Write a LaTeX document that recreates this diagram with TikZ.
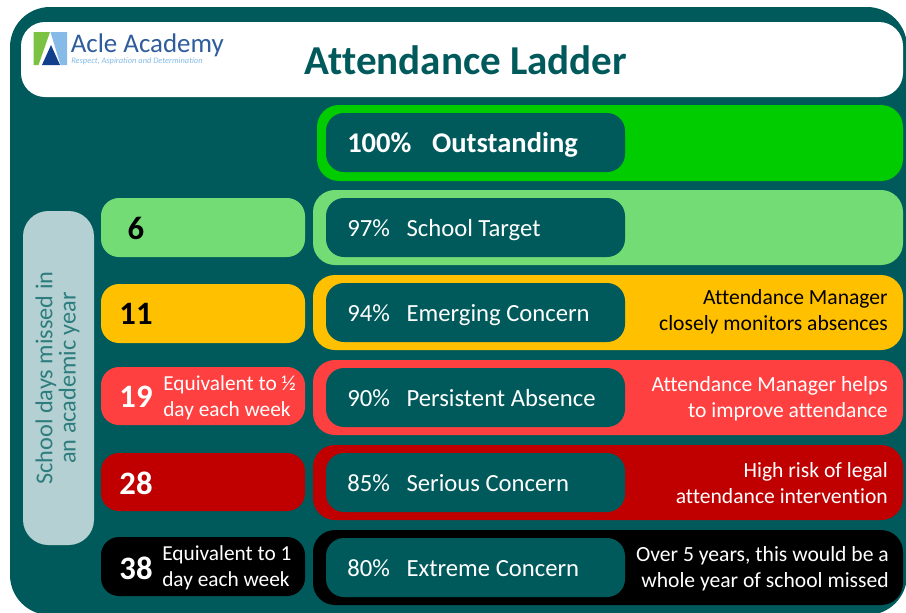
\documentclass[tikz,border=0pt]{standalone}
\usepackage{fontspec}
\setmainfont[Ligatures=NoCommon]{Carlito}
\definecolor{teal1}{HTML}{005A5B}
\definecolor{sidetx}{HTML}{2E7D7E}
\definecolor{gr1}{HTML}{00CC00}
\definecolor{gr2}{HTML}{74DC74}
\definecolor{amb}{HTML}{FFC000}
\definecolor{red1}{HTML}{FF4040}
\definecolor{red2}{HTML}{C00000}
\definecolor{side}{HTML}{B5D0D2}
\definecolor{logob}{HTML}{2F5C9C}
\definecolor{logol}{HTML}{85BBE6}
\definecolor{logod}{HTML}{123F8C}
\definecolor{logog}{HTML}{7CC242}
\tikzset{
 x=0.75pt,y=-0.75pt,
 bar/.style={rounded corners=16.5pt,draw=none},
 lft/.style={rounded corners=13.5pt,draw=none},
 inr/.style={rounded corners=13.5pt,draw=none,fill=teal1},
 lab/.style={font=\fontsize{18.5}{21}\selectfont,text=white,anchor=west,inner sep=0pt,text height=0.66em,text depth=0pt},
 num/.style={font=\fontsize{24.5}{27}\selectfont\bfseries,anchor=center,inner sep=0pt},
 eq/.style={font=\fontsize{16}{19.5}\selectfont,text=white,align=left,anchor=west,inner sep=0pt},
 note/.style={font=\fontsize{16.2}{19.5}\selectfont,align=right,anchor=east,inner sep=0pt},
}
\newcommand{\ladderrow}[5]{%
 \fill[bar,fill=#2] (313,#1) rectangle (903,#1+75);
 \fill[inr] (326,#1+8) rectangle (625,#1+67);
 \node[lab] (#5) at (347,#1+42) {#3\hspace{12.5pt}#4};
}
\begin{document}
\begin{tikzpicture}
\useasboundingbox (0,0) rectangle (906,612);
\fill[white] (0,0) rectangle (906,612);
\begin{scope}
\clip (0,0) rectangle (906,612);
\fill[teal1,rounded corners=30pt] (10,7) rectangle (907,615);
\end{scope}
% header
\fill[white,rounded corners=18pt] (21,22) rectangle (903,97);
\fill[logog] (33.5,32) -- (50,32) -- (38.5,65) -- (33.5,65) -- cycle;
\fill[logol] (50.5,32) -- (67,32) -- (67,65) -- (60.5,65) -- cycle;
\fill[logod] (51,45) -- (60,65) -- (42,65) -- cycle;
\node[inner sep=0pt,anchor=west,text=logob,font=\fontsize{20.2}{22}\selectfont] (brand) at (70.5,45.5) {Acle Academy};
\node[inner sep=0pt,anchor=west,text=logol,font=\fontsize{6.3}{8}\selectfont\itshape] (motto) at (71,61.5) {Respect, Aspiration and Determination};
\node[inner sep=0pt,text=teal1,font=\fontsize{30.8}{33}\selectfont\bfseries] (title) at (466,60) {Attendance Ladder};
% side
\fill[side,rounded corners=19pt] (23,211) rectangle (94,545);
\node[rotate=90,align=center,text=sidetx,inner sep=0pt,font=\fontsize{18.2}{17.3}\selectfont] (sidetxt) at (57.5,378) {School days missed in\\an academic year};
% top row
\fill[bar,fill=gr1] (317,105) rectangle (903,181);
\fill[inr] (326,113) rectangle (625,172);
\node[lab,font=\fontsize{21.4}{24}\selectfont\bfseries] (r100) at (347,148) {100\%\hspace{15.5pt}Outstanding};
% rows
\ladderrow{190}{gr2}{97\%}{School Target}{r97}
\ladderrow{275}{amb}{94\%}{Emerging Concern}{r94}
\ladderrow{360}{red1}{90\%}{Persistent Absence}{r90}
\ladderrow{445}{red2}{85\%}{Serious Concern}{r85}
\ladderrow{530}{black}{80\%}{Extreme Concern}{r80}
% notes
\node[note,text=black] (n94) at (888,312) {Attendance Manager\\closely monitors absences};
\node[note,text=white] (n90) at (888,399) {Attendance Manager helps\\to improve attendance};
\node[note,text=white] (n85) at (888,483) {High risk of legal\\attendance intervention};
\node[note,text=white] (n80) at (889,569) {Over 5 years, this would be a\\whole year of school missed};
% left boxes
\fill[lft,fill=gr2] (101,198) rectangle (305,257);
\fill[lft,fill=amb] (101,284) rectangle (305,343);
\fill[lft,fill=red1] (101,367) rectangle (305,425);
\fill[lft,fill=red2] (101,453) rectangle (305,511);
\fill[lft,fill=black] (101,537) rectangle (305,596);
\node[num,text=black] (d6) at (136,228) {6};
\node[num,text=black] (d11) at (136,314) {11};
\node[num,text=white] (d19) at (136,397) {19};
\node[num,text=white] (d28) at (136,483) {28};
\node[num,text=white] (d38) at (136,568) {38};
\node[eq] (e19) at (163,398) {Equivalent to ½\\day each week};
\node[eq] (e38) at (162,568) {Equivalent to 1\\day each week};
\end{tikzpicture}
\end{document}
